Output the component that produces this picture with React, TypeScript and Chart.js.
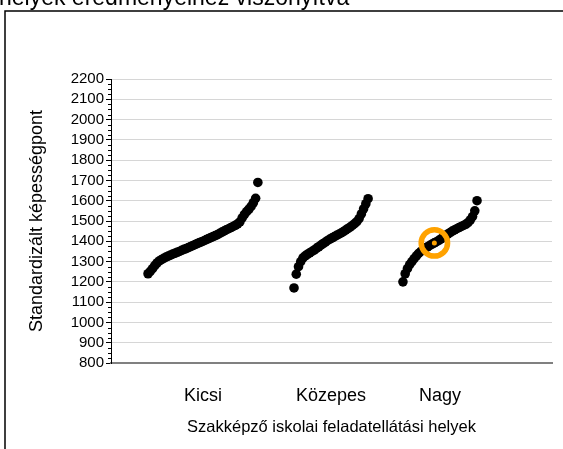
import React, { useEffect, useRef } from "react";
import { Chart, registerables } from "chart.js";

Chart.register(...registerables);

const FONT = '"Liberation Sans", Arial, Helvetica, sans-serif';

const titleFragment = "helyek eredményeihez viszonyítva";
const xAxisTitle = "Szakképző iskolai feladatellátási helyek";
const yAxisTitle = "Standardizált képességpont";

const categories = ["Kicsi", "Közepes", "Nagy"];

// sorted school scores per category
const kicsiValues = [
  1240, 1252, 1265, 1280, 1293, 1303, 1310, 1316, 1322, 1327,
  1332, 1337, 1341, 1346, 1350, 1355, 1360, 1364, 1369, 1374,
  1379, 1384, 1389, 1394, 1398, 1403, 1408, 1413, 1418, 1423,
  1428, 1433, 1439, 1445, 1451, 1457, 1462, 1468, 1473, 1479,
  1486, 1496, 1515, 1532, 1546, 1558, 1572, 1590, 1612, 1690,
];

const kozepesValues = [
  1170, 1238, 1275, 1300, 1318, 1328, 1336, 1343, 1350, 1357,
  1365, 1373, 1381, 1389, 1396, 1404, 1411, 1417, 1423, 1429,
  1435, 1441, 1448, 1455, 1463, 1470, 1478, 1487, 1497, 1512,
  1535, 1560, 1585, 1610,
];

const nagyValues = [
  1200, 1240, 1265, 1285, 1300, 1315, 1328, 1340, 1350, 1358,
  1366, 1373, 1380, 1386, 1392, 1398, 1405, 1412, 1420, 1428,
  1436, 1443, 1450, 1456, 1462, 1468, 1473, 1478, 1484, 1492,
  1505, 1522, 1550, 1600,
];

const seriesValues = [kicsiValues, kozepesValues, nagyValues];

// the highlighted school: index within the "Nagy" group
const highlightGroup = 2;
const highlightIndex = 14;

// horizontal extent of each group on a 0..100 x scale
const groupStart = [8.4, 41.5, 66.2];
const groupEnd = [33.3, 58.3, 83.0];

const yMin = 800;
const yMax = 2200;
const yStep = 100;
const yMinorStep = 25;

function groupPoints(g: number) {
  const vals = seriesValues[g];
  const n = vals.length;
  const span = groupEnd[g] - groupStart[g];
  return vals.map((v, i) => ({ x: groupStart[g] + (span * i) / (n - 1), y: v }));
}

const groupCenters = categories.map((_, g) => (groupStart[g] + groupEnd[g]) / 2);

const decorPlugin = {
  id: "decor",
  afterDraw(chart: any) {
    const ctx = chart.ctx;
    const ys = chart.scales.y;
    ctx.save();
    // minor ticks on y axis
    ctx.strokeStyle = "#000";
    ctx.lineWidth = 1;
    for (let v = yMin; v < yMax; v += yMinorStep) {
      if (v % yStep === 0) continue;
      const py = Math.round(ys.getPixelForValue(v)) + 0.5;
      ctx.beginPath();
      ctx.moveTo(ys.right - 3, py);
      ctx.lineTo(ys.right, py);
      ctx.stroke();
    }
    // outer frame (left and top edges visible)
    ctx.lineWidth = 1.5;
    ctx.beginPath();
    ctx.moveTo(5, chart.height + 5);
    ctx.lineTo(5, 11);
    ctx.lineTo(chart.width + 5, 11);
    ctx.stroke();
    // cut-off title fragment
    ctx.fillStyle = "#000";
    ctx.font = `23px ${FONT}`;
    ctx.textAlign = "left";
    ctx.textBaseline = "alphabetic";
    ctx.fillText(titleFragment, -1, 5);
    ctx.restore();
  },
};

export default function App() {
  const ref = useRef<HTMLCanvasElement | null>(null);

  useEffect(() => {
    if (!ref.current) return;
    const hiPoints = groupPoints(highlightGroup);
    const hi = hiPoints[highlightIndex];
    const chart = new Chart(ref.current, {
      type: "scatter",
      data: {
        datasets: [
          {
            label: "highlight-dot",
            data: [hi],
            pointRadius: 2.5,
            pointBackgroundColor: "#FFA200",
            pointBorderWidth: 0,
            order: 0,
          },
          {
            label: "highlight-ring",
            data: [hi],
            pointRadius: 13.2,
            pointBackgroundColor: "rgba(0,0,0,0)",
            pointBorderColor: "#FFA200",
            pointBorderWidth: 5.5,
            order: 1,
          },
          ...categories.map((c, g) => ({
            label: c,
            data: groupPoints(g),
            pointRadius: 4.8,
            pointBackgroundColor: "#000",
            pointBorderWidth: 0,
            order: 2,
          })),
        ],
      },
      options: {
        responsive: false,
        animation: false,
        devicePixelRatio: 1,
        layout: { autoPadding: false, padding: { left: 0, right: 11, top: 79, bottom: 0 } },
        plugins: {
          legend: { display: false },
          tooltip: { enabled: false },
        },
        scales: {
          x: {
            type: "linear",
            min: 0,
            max: 100,
            afterFit: (s: any) => {
              s.height = 86;
              s.paddingLeft = 0;
              s.paddingRight = 0;
            },
            afterBuildTicks: (s: any) => {
              s.ticks = groupCenters.map((v) => ({ value: v }));
            },
            grid: { display: false },
            border: { display: true, color: "#808080", width: 2 },
            ticks: {
              callback: (_v: any, i: number) => categories[i],
              font: { size: 18, family: FONT },
              color: "#000",
              padding: 14,
              autoSkip: false,
              maxRotation: 0,
            },
            title: {
              display: true,
              text: xAxisTitle,
              font: { size: 16.5, family: FONT },
              color: "#000",
              padding: { top: 0, bottom: 12 },
            },
          },
          y: {
            min: yMin,
            max: yMax,
            afterFit: (s: any) => {
              s.width = 111;
            },
            ticks: {
              stepSize: yStep,
              autoSkip: false,
              callback: (v: any) => String(v),
              font: { size: 15, family: FONT },
              color: "#000",
              padding: 2,
            },
            grid: {
              color: "#d6d6d6",
              lineWidth: 1,
              tickLength: 5,
              tickColor: "#000",
              drawTicks: true,
            },
            border: { display: true, color: "#000", width: 1 },
            title: {
              display: true,
              text: yAxisTitle,
              font: { size: 18, family: FONT },
              color: "#000",
              padding: { top: 26, bottom: 0 },
            },
          },
        },
      },
      plugins: [decorPlugin],
    } as any);
    return () => chart.destroy();
  }, []);

  return (
    <div style={{ position: "absolute", left: 0, top: 0, width: 563, height: 449, background: "#fff" }}>
      <canvas ref={ref} width={563} height={449} style={{ display: "block" }} />
    </div>
  );
}
